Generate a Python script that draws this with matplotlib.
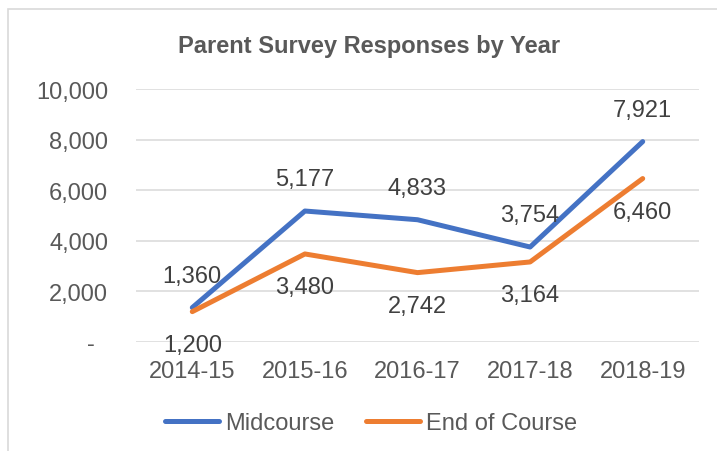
import matplotlib
matplotlib.use('Agg')
import matplotlib.pyplot as plt
from matplotlib.patches import Rectangle

# data
years = ['2014-15', '2015-16', '2016-17', '2017-18', '2018-19']
midcourse = [1360, 5177, 4833, 3754, 7921]
end_of_course = [1200, 3480, 2742, 3164, 6460]
y_ticks = [0, 2000, 4000, 6000, 8000, 10000]
y_tick_labels = ['-  ', '2,000', '4,000', '6,000', '8,000', '10,000']

plt.rcParams['font.family'] = ['Liberation Sans', 'DejaVu Sans']
blue = '#4472C4'
orange = '#ED7D31'
grey_txt = '#595959'
lbl_txt = '#404040'

fig = plt.figure(figsize=(7.17, 4.52), dpi=100)
ax = fig.add_axes([136 / 717, 1 - 343 / 452, (699 - 136) / 717, (343 - 90) / 452])

x = range(len(years))
ax.plot(x, midcourse, color=blue, lw=3.6, solid_capstyle='round', solid_joinstyle='round', label='Midcourse', zorder=3)
ax.plot(x, end_of_course, color=orange, lw=3.6, solid_capstyle='round', solid_joinstyle='round', label='End of Course', zorder=3)

# data labels: midcourse above, end of course below
for i, v in enumerate(midcourse):
    ax.annotate(f'{v:,}', (i, v), xytext=(0, 32), textcoords='offset pixels',
                ha='center', va='center', fontsize=17, color=lbl_txt, zorder=4)
for i, v in enumerate(end_of_course):
    ax.annotate(f'{v:,}', (i, v), xytext=(0, -33), textcoords='offset pixels',
                ha='center', va='center', fontsize=17, color=lbl_txt, zorder=4)

ax.set_xlim(-0.5, len(years) - 0.5)
ax.set_ylim(0, 10000)
ax.set_xticks(list(x))
ax.set_xticklabels(years)
ax.set_yticks(y_ticks)
ax.set_yticklabels(y_tick_labels)
ax.tick_params(axis='both', length=0, labelsize=17, labelcolor=grey_txt)
ax.tick_params(axis='y', pad=20)
ax.tick_params(axis='x', pad=13)
ax.grid(axis='y', color='#D9D9D9', lw=1.1)
ax.set_axisbelow(True)
for s in ax.spines.values():
    s.set_visible(False)

fig.text(369 / 717, 1 - 46 / 452, 'Parent Survey Responses by Year', ha='center', va='center',
         fontsize=17, fontweight='bold', color=grey_txt)

fig.legend(loc='center', bbox_to_anchor=(371 / 717, 1 - 424 / 452), ncol=2, frameon=False,
           fontsize=17, labelcolor=grey_txt, handlelength=2.3, handletextpad=0.25, columnspacing=1.35)

# chart area border (only top/left visible in the crop)
fig.patches.append(Rectangle((8 / 717, -0.5), 2, 0.5 + 1 - 10 / 452, transform=fig.transFigure,
                             fill=False, ec='#D9D9D9', lw=1.2, clip_on=False))

fig.savefig('out.png', dpi=100)
